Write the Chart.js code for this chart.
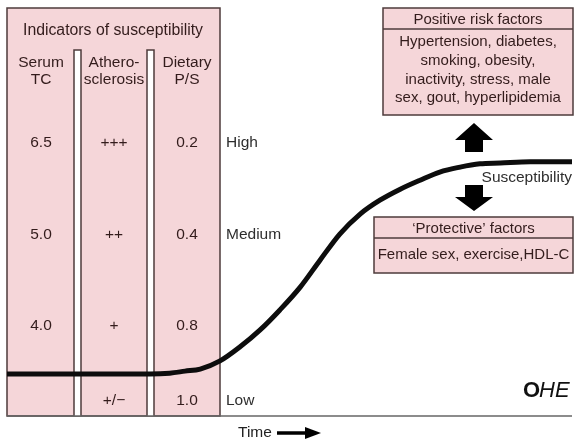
<!DOCTYPE html>
<html>
<head>
<meta charset="utf-8">
<script src="https://cdn.jsdelivr.net/npm/chart.js@4.4.1/dist/chart.umd.min.js"></script>
<style>
  html, body { margin: 0; padding: 0; background: #fff; }
  canvas { display: block; }
</style>
</head>
<body>
<canvas id="chart" width="577" height="441"></canvas>
<script>
//------------------------------ DATA ----------------------------------
// susceptibility curve (time 0..100, susceptibility 0..100)
const timePoints = [0, 9.4, 20, 25.3, 28.8, 31.5, 34.2, 37.7, 41.2, 44.8, 48.3, 51.9, 55.4, 58.9, 62.5, 66, 69.6, 73.1, 76.6, 80.2, 83.7, 87.3, 92.6, 100];
const susceptibility = [10.3, 10.3, 10.3, 10.3, 10.5, 11.0, 11.5, 13.5, 16.9, 21.1, 26.0, 31.6, 38.2, 44.6, 49.5, 52.9, 55.6, 57.8, 59.8, 61.0, 61.8, 62.0, 62.3, 62.3];

// table of indicators, one row per level
const rowLevels = [66.9, 44.4, 22.1, 3.7];
const levelLabels = ['High', 'Medium', '', 'Low'];
const serumTC = ['6.5', '5.0', '4.0', ''];
const atheroSclerosis = ['+++', '++', '+', '+/\u2212'];
const dietaryPS = ['0.2', '0.4', '0.8', '1.0'];
const columnHeads = [['Serum', 'TC'], ['Athero-', 'sclerosis'], ['Dietary', 'P/S']];

const positiveFactors = ['Hypertension, diabetes,', 'smoking, obesity,', 'inactivity, stress, male', 'sex, gout, hyperlipidemia'];
const protectiveFactors = ['Female sex, exercise,HDL-C'];

//------------------------------ HELPERS ----------------------------------
const FONT = '"Liberation Sans", Arial, Helvetica, sans-serif';
const PINK = '#f5d6d9';
const EDGE = '#4d3b3b';
const INK = '#331c1c';

function txt(ctx, s, x, y, color, align, size) {
    ctx.font = (size || 15.5) + 'px ' + FONT;
    ctx.fillStyle = color;
    ctx.textAlign = align || 'center';
    ctx.textBaseline = 'middle';
    ctx.fillText(s, x, y);
}

function box(ctx, x, y, w, h, divY, head, lines, lineYs) {
    ctx.fillStyle = PINK;
    ctx.fillRect(x, y, w, h);
    ctx.strokeStyle = EDGE;
    ctx.lineWidth = 1.5;
    ctx.strokeRect(x, y, w, h);
    ctx.beginPath();
    ctx.moveTo(x, divY);
    ctx.lineTo(x + w, divY);
    ctx.stroke();
    const cx = x + w / 2;
    txt(ctx, head, cx, (y + divY) / 2 + 1, INK, 'center', 15);
    lines.forEach((l, i) => txt(ctx, l, cx, lineYs[i], INK, 'center', 15));
}

function poly(ctx, pts) {
    ctx.beginPath();
    pts.forEach((p, i) => i ? ctx.lineTo(p[0], p[1]) : ctx.moveTo(p[0], p[1]));
    ctx.closePath();
    ctx.fillStyle = '#000';
    ctx.fill();
}

//------------------------------ DIAGRAM PLUGIN ----------------------------------
const diagram = {
    id: 'diagram',
    beforeDatasetsDraw(chart) {
        const ctx = chart.ctx;
        const ys = chart.scales.y;
        ctx.save();

        // pink panel
        ctx.fillStyle = PINK;
        ctx.fillRect(7, 8, 213, 408);
        ctx.strokeStyle = EDGE;
        ctx.lineWidth = 1.5;
        ctx.strokeRect(7, 8, 213, 408);

        // white separators
        [74, 147].forEach(sx => {
            ctx.fillStyle = '#fff';
            ctx.fillRect(sx, 50, 7, 366);
            ctx.beginPath();
            ctx.moveTo(sx, 416);
            ctx.lineTo(sx, 50);
            ctx.lineTo(sx + 7, 50);
            ctx.lineTo(sx + 7, 416);
            ctx.stroke();
        });

        txt(ctx, 'Indicators of susceptibility', 113, 31, INK, 'center', 15.8);
        const colX = [41, 114, 187];
        columnHeads.forEach((h, i) => {
            txt(ctx, h[0], colX[i], 63, INK);
            txt(ctx, h[1], colX[i], 80, INK);
        });

        rowLevels.forEach((lv, i) => {
            const py = ys.getPixelForValue(lv);
            txt(ctx, serumTC[i], colX[0], py, INK);
            txt(ctx, atheroSclerosis[i], colX[1], py, INK);
            txt(ctx, dietaryPS[i], colX[2], py, INK);
            txt(ctx, levelLabels[i], 226, py, '#2e2e2e', 'left');
        });

        // bottom axis line
        ctx.strokeStyle = '#666';
        ctx.lineWidth = 1.5;
        ctx.beginPath();
        ctx.moveTo(7, 416);
        ctx.lineTo(572, 416);
        ctx.stroke();

        // Time arrow
        txt(ctx, 'Time', 238, 433, '#222', 'left');
        ctx.strokeStyle = '#000';
        ctx.lineWidth = 3.5;
        ctx.beginPath();
        ctx.moveTo(277, 433);
        ctx.lineTo(308, 433);
        ctx.stroke();
        poly(ctx, [[305, 427], [321, 433], [305, 439]]);

        // factor boxes
        box(ctx, 383, 8, 190, 107, 29, 'Positive risk factors', positiveFactors, [42, 61, 80, 98]);
        box(ctx, 374, 217, 199, 56, 238, '\u2018Protective\u2019 factors', protectiveFactors, [255]);

        // arrows
        poly(ctx, [[474, 123], [493, 140], [483, 140], [483, 152], [465, 152], [465, 140], [455, 140]]);
        poly(ctx, [[465, 185], [483, 185], [483, 197], [493, 197], [474, 211], [455, 197], [465, 197]]);

        txt(ctx, 'Susceptibility', 572, 178, '#2e2e2e', 'right');

        // logo
        ctx.font = 'bold 22px ' + FONT;
        ctx.fillStyle = '#111';
        ctx.textAlign = 'left';
        ctx.textBaseline = 'middle';
        ctx.fillText('O', 523, 391);
        ctx.font = 'italic 22px ' + FONT;
        ctx.fillText('HE', 539, 391);

        ctx.restore();
    }
};

//------------------------------ CHART ----------------------------------
new Chart(document.getElementById('chart'), {
    type: 'line',
    data: {
        datasets: [{
            label: 'Susceptibility',
            data: timePoints.map((t, i) => ({ x: t, y: susceptibility[i] })),
            borderColor: '#0d0d0d',
            borderWidth: 5,
            pointRadius: 0,
            fill: false,
            cubicInterpolationMode: 'monotone'
        }]
    },
    options: {
        responsive: false,
        animation: false,
        layout: { padding: { left: 7, right: 5, top: 8, bottom: 25 } },
        plugins: { legend: { display: false }, tooltip: { enabled: false } },
        scales: {
            x: { type: 'linear', min: 0, max: 100, display: false },
            y: { type: 'linear', min: 0, max: 100, display: false }
        }
    },
    plugins: [diagram]
});
</script>
</body>
</html>
